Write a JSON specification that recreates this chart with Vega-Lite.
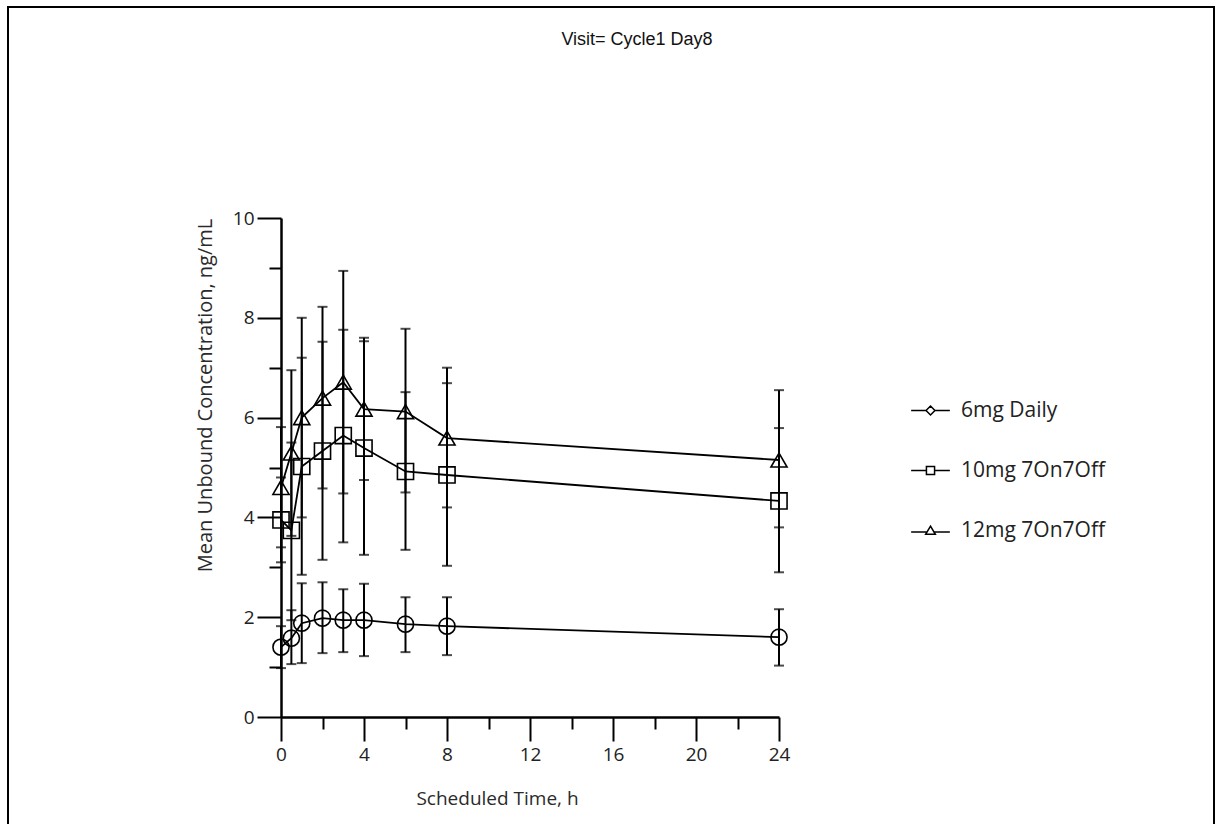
{
  "$schema": "https://vega.github.io/schema/vega-lite/v6.json",
  "autosize": "none",
  "width": 1206,
  "height": 819,
  "padding": {"left": 8, "top": 7, "right": 7, "bottom": 0},
  "background": "white",
  "title": {
    "text": "Visit= Cycle1 Day8",
    "frame": "group",
    "anchor": "middle",
    "dx": 26,
    "offset": -42,
    "font": "Liberation Sans",
    "fontSize": 18,
    "fontWeight": "normal",
    "color": "#111"
  },
  "data": {
    "values": [
      {"group": "6mg Daily", "t": 0, "mean": 1.40, "lo": 0.98, "hi": 1.82},
      {"group": "6mg Daily", "t": 0.5, "mean": 1.58, "lo": 1.06, "hi": 2.14},
      {"group": "6mg Daily", "t": 1, "mean": 1.88, "lo": 1.08, "hi": 2.68},
      {"group": "6mg Daily", "t": 2, "mean": 1.98, "lo": 1.28, "hi": 2.70},
      {"group": "6mg Daily", "t": 3, "mean": 1.94, "lo": 1.30, "hi": 2.56},
      {"group": "6mg Daily", "t": 4, "mean": 1.94, "lo": 1.22, "hi": 2.67},
      {"group": "6mg Daily", "t": 6, "mean": 1.86, "lo": 1.30, "hi": 2.40},
      {"group": "6mg Daily", "t": 8, "mean": 1.82, "lo": 1.24, "hi": 2.40},
      {"group": "6mg Daily", "t": 24, "mean": 1.60, "lo": 1.03, "hi": 2.16},
      {"group": "10mg 7On7Off", "t": 0, "mean": 3.95, "lo": 3.10, "hi": 4.80},
      {"group": "10mg 7On7Off", "t": 0.5, "mean": 3.74, "lo": 1.94, "hi": 5.50},
      {"group": "10mg 7On7Off", "t": 1, "mean": 5.02, "lo": 2.85, "hi": 7.20},
      {"group": "10mg 7On7Off", "t": 2, "mean": 5.33, "lo": 3.15, "hi": 7.52},
      {"group": "10mg 7On7Off", "t": 3, "mean": 5.64, "lo": 3.50, "hi": 7.76},
      {"group": "10mg 7On7Off", "t": 4, "mean": 5.39, "lo": 3.25, "hi": 7.53},
      {"group": "10mg 7On7Off", "t": 6, "mean": 4.92, "lo": 3.35, "hi": 6.51},
      {"group": "10mg 7On7Off", "t": 8, "mean": 4.85, "lo": 3.03, "hi": 6.69},
      {"group": "10mg 7On7Off", "t": 24, "mean": 4.33, "lo": 2.90, "hi": 5.79},
      {"group": "12mg 7On7Off", "t": 0, "mean": 4.60, "lo": 3.40, "hi": 5.81},
      {"group": "12mg 7On7Off", "t": 0.5, "mean": 5.29, "lo": 3.63, "hi": 6.95},
      {"group": "12mg 7On7Off", "t": 1, "mean": 6.00, "lo": 4.00, "hi": 8.00},
      {"group": "12mg 7On7Off", "t": 2, "mean": 6.39, "lo": 4.58, "hi": 8.22},
      {"group": "12mg 7On7Off", "t": 3, "mean": 6.71, "lo": 4.48, "hi": 8.94},
      {"group": "12mg 7On7Off", "t": 4, "mean": 6.17, "lo": 4.75, "hi": 7.60},
      {"group": "12mg 7On7Off", "t": 6, "mean": 6.12, "lo": 4.50, "hi": 7.78},
      {"group": "12mg 7On7Off", "t": 8, "mean": 5.59, "lo": 4.20, "hi": 7.00},
      {"group": "12mg 7On7Off", "t": 24, "mean": 5.15, "lo": 3.80, "hi": 6.55}
    ]
  },
  "encoding": {
    "x": {
      "field": "t", "type": "quantitative",
      "scale": {"domain": [0, 24], "range": [273, 771], "nice": false, "zero": false},
      "axis": {
        "title": "Scheduled Time, h",
        "offset": -109,
        "values": [0, 2, 4, 6, 8, 10, 12, 14, 16, 18, 20, 22, 24],
        "labelExpr": "datum.value % 4 === 0 ? datum.label : ''",
        "tickSize": {"condition": {"test": "datum.value % 4 === 0", "value": 24}, "value": 12},
        "labelPadding": 4,
        "labelFlush": false,
        "titleX": 489,
        "titleY": 87,
        "titleAlign": "center",
        "titleBaseline": "alphabetic",
        "zindex": 2
      }
    }
  },
  "layer": [
    {
      "mark": {"type": "rule", "color": "black", "strokeWidth": 2},
      "encoding": {
        "y": {
          "field": "lo", "type": "quantitative",
          "scale": {"domain": [0, 10], "range": [710, 211], "nice": false, "zero": false},
          "axis": {
            "title": "Mean Unbound Concentration, ng/mL",
            "offset": -273,
            "values": [0, 1, 2, 3, 4, 5, 6, 7, 8, 9, 10],
            "labelExpr": "datum.value % 2 === 0 ? datum.label : ''",
            "tickSize": {"condition": {"test": "datum.value % 2 === 0", "value": 24}, "value": 12},
            "labelPadding": 3,
            "labelFlush": false,
            "titleX": -76,
            "titleY": 388,
            "titleAlign": "center",
            "titleBaseline": "middle",
            "titleAngle": -90,
            "zindex": 2
          }
        },
        "y2": {"field": "hi"}
      }
    },
    {
      "mark": {"type": "tick", "orient": "horizontal", "color": "black", "size": 10, "thickness": 2},
      "encoding": {
        "y": {
          "field": "lo", "type": "quantitative",
          "scale": {"domain": [0, 10], "range": [710, 211], "nice": false, "zero": false},
          "axis": {
            "title": "Mean Unbound Concentration, ng/mL",
            "offset": -273,
            "values": [0, 1, 2, 3, 4, 5, 6, 7, 8, 9, 10],
            "labelExpr": "datum.value % 2 === 0 ? datum.label : ''",
            "tickSize": {"condition": {"test": "datum.value % 2 === 0", "value": 24}, "value": 12},
            "labelPadding": 3,
            "labelFlush": false,
            "titleX": -76,
            "titleY": 388,
            "titleAlign": "center",
            "titleBaseline": "middle",
            "titleAngle": -90,
            "zindex": 2
          }
        }
      }
    },
    {
      "mark": {"type": "tick", "orient": "horizontal", "color": "black", "size": 10, "thickness": 2},
      "encoding": {
        "y": {
          "field": "hi", "type": "quantitative",
          "scale": {"domain": [0, 10], "range": [710, 211], "nice": false, "zero": false},
          "axis": {
            "title": "Mean Unbound Concentration, ng/mL",
            "offset": -273,
            "values": [0, 1, 2, 3, 4, 5, 6, 7, 8, 9, 10],
            "labelExpr": "datum.value % 2 === 0 ? datum.label : ''",
            "tickSize": {"condition": {"test": "datum.value % 2 === 0", "value": 24}, "value": 12},
            "labelPadding": 3,
            "labelFlush": false,
            "titleX": -76,
            "titleY": 388,
            "titleAlign": "center",
            "titleBaseline": "middle",
            "titleAngle": -90,
            "zindex": 2
          }
        }
      }
    },
    {
      "mark": {"type": "line", "color": "black", "strokeWidth": 1.8},
      "encoding": {
        "y": {
          "field": "mean", "type": "quantitative",
          "scale": {"domain": [0, 10], "range": [710, 211], "nice": false, "zero": false},
          "axis": {
            "title": "Mean Unbound Concentration, ng/mL",
            "offset": -273,
            "values": [0, 1, 2, 3, 4, 5, 6, 7, 8, 9, 10],
            "labelExpr": "datum.value % 2 === 0 ? datum.label : ''",
            "tickSize": {"condition": {"test": "datum.value % 2 === 0", "value": 24}, "value": 12},
            "labelPadding": 3,
            "labelFlush": false,
            "titleX": -76,
            "titleY": 388,
            "titleAlign": "center",
            "titleBaseline": "middle",
            "titleAngle": -90,
            "zindex": 2
          }
        },
        "detail": {"field": "group", "type": "nominal"}
      }
    },
    {
      "mark": {"type": "point", "filled": false, "color": "black", "size": 260, "strokeWidth": 1.6, "opacity": 1},
      "encoding": {
        "y": {
          "field": "mean", "type": "quantitative",
          "scale": {"domain": [0, 10], "range": [710, 211], "nice": false, "zero": false},
          "axis": {
            "title": "Mean Unbound Concentration, ng/mL",
            "offset": -273,
            "values": [0, 1, 2, 3, 4, 5, 6, 7, 8, 9, 10],
            "labelExpr": "datum.value % 2 === 0 ? datum.label : ''",
            "tickSize": {"condition": {"test": "datum.value % 2 === 0", "value": 24}, "value": 12},
            "labelPadding": 3,
            "labelFlush": false,
            "titleX": -76,
            "titleY": 388,
            "titleAlign": "center",
            "titleBaseline": "middle",
            "titleAngle": -90,
            "zindex": 2
          }
        },
        "shape": {
          "field": "group", "type": "nominal",
          "scale": {"domain": ["6mg Daily", "10mg 7On7Off", "12mg 7On7Off"], "range": ["circle", "square", "triangle-up"]},
          "legend": null
        }
      }
    },
    {
      "transform": [{"filter": "false"}],
      "mark": {"type": "point", "filled": false, "color": "black", "opacity": 1},
      "encoding": {
        "shape": {
          "field": "group", "type": "nominal",
          "scale": {
            "domain": ["6mg Daily", "10mg 7On7Off", "12mg 7On7Off"],
            "range": [
              "M-1,0H-0.23M0.23,0H1M0,-0.23L0.23,0L0,0.23L-0.23,0Z",
              "M-1,0H-0.21M0.21,0H1M-0.21,-0.21H0.21V0.21H-0.21Z",
              "M-1,0.08H-0.17M0.17,0.08H1M0,-0.22L0.25,0.2L-0.25,0.2Z"
            ]
          },
          "legend": {
            "orient": "none",
            "legendX": 902,
            "legendY": 383,
            "title": null,
            "labelFont": "Open Sans",
            "labelFontSize": 21,
            "labelColor": "#222",
            "symbolSize": 1500,
            "symbolStrokeWidth": 1.5,
            "symbolStrokeColor": "black",
            "symbolFillColor": "transparent",
            "symbolOpacity": 1,
            "rowPadding": 29,
            "labelOffset": 10
          }
        }
      }
    }
  ],
  "resolve": {"scale": {"shape": "independent"}, "legend": {"shape": "independent"}},
  "config": {
    "view": {"stroke": "black", "strokeWidth": 2},
    "axis": {
      "grid": false,
      "domainColor": "black",
      "domainWidth": 2.5,
      "tickColor": "black",
      "tickWidth": 2,
      "labelFont": "Open Sans",
      "labelFontSize": 19,
      "labelColor": "#222",
      "titleFont": "Open Sans",
      "titleFontSize": 19,
      "titleFontWeight": "normal",
      "titleColor": "#2a2a2a"
    },
    "axisY": {"titleFontSize": 20}
  }
}
